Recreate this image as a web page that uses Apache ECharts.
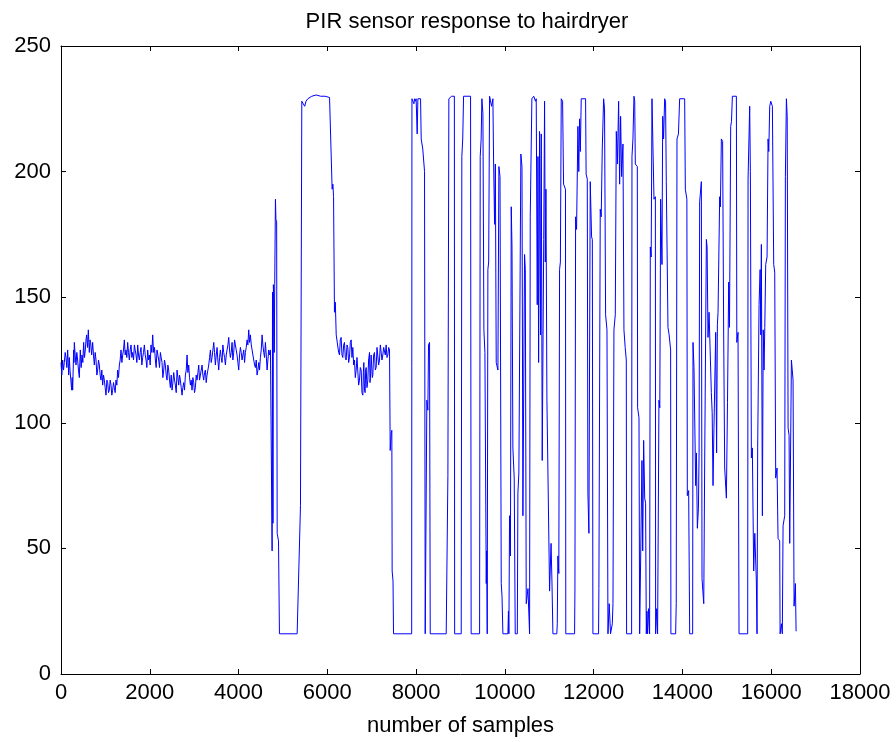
<!DOCTYPE html>
<html>
<head>
<meta charset="utf-8">
<script src="https://cdn.jsdelivr.net/npm/echarts@6/dist/echarts.min.js"></script>
<style>
html,body{margin:0;padding:0;background:#fff;}
#chart{width:896px;height:742px;}
</style>
</head>
<body>
<div id="chart"></div>
<script>
const titleText = 'PIR sensor response to hairdryer';
const xAxisName = 'number of samples';
const xTicks = {min: 0, max: 18000, interval: 2000};
const yTicks = {min: 0, max: 250, interval: 50};

// baseline before hairdryer (sample index, reading)
const baseline1 = [[0,124],[18,119],[37,125],[56,121],[75,124],[94,128],[112,126],[131,122],[150,129],[162,124],[173,119],[188,126],[203,121],[222,117],[240,113],[252,118],[263,113],[274,121],[285,129],[292,124],[300,132],[319,127],[338,123],[356,128],[375,125],[394,121],[413,118],[424,124],[435,129],[454,122],[473,127],[492,124],[510,132],[529,126],[548,129],[563,133],[578,135],[597,130],[616,137],[627,132],[638,128],[653,133],[668,132],[690,127],[713,132],[732,127],[751,123],[770,128],[789,125],[808,119],[826,121],[845,125],[864,123],[882,119],[901,117],[920,121],[939,115],[958,119],[976,117],[995,114],[1014,111],[1033,117],[1052,116],[1070,112],[1089,113],[1108,117],[1127,115],[1145,111],[1164,113],[1183,116],[1202,114],[1220,112],[1239,117],[1258,115],[1277,121],[1296,118],[1315,123],[1333,125],[1352,129],[1371,124],[1390,127],[1408,129],[1427,133],[1446,127],[1465,129],[1483,126],[1502,132],[1521,128],[1540,125],[1559,129],[1578,131],[1596,126],[1615,128],[1634,125],[1653,131],[1671,129],[1690,127],[1709,124],[1728,131],[1746,127],[1765,125],[1784,128],[1803,130],[1821,123],[1840,126],[1859,128],[1878,131],[1897,127],[1916,125],[1934,122],[1953,129],[1972,125],[1991,127],[2009,123],[2028,131],[2047,128],[2066,135],[2077,131],[2088,128],[2107,130],[2126,125],[2144,122],[2163,129],[2182,127],[2201,125],[2220,122],[2239,128],[2257,126],[2276,124],[2295,118],[2314,121],[2332,125],[2351,123],[2370,119],[2389,117],[2407,123],[2426,121],[2445,117],[2464,114],[2483,119],[2502,113],[2520,116],[2539,120],[2558,117],[2577,115],[2596,112],[2614,121],[2633,118],[2652,115],[2670,119],[2689,117],[2708,114],[2727,111],[2745,114],[2764,116],[2783,113],[2802,119],[2821,121],[2840,127],[2858,120],[2877,123],[2896,118],[2915,115],[2933,117],[2952,113],[2971,118],[2990,116],[3008,112],[3027,114],[3046,119],[3065,117],[3084,120],[3103,123],[3121,117],[3140,119],[3159,121],[3178,123],[3196,119],[3215,117],[3234,120],[3253,121],[3271,116],[3290,119],[3309,121],[3328,123],[3347,126],[3366,129],[3384,124],[3403,126],[3422,129],[3441,132],[3459,128],[3478,123],[3497,127],[3516,130],[3534,125],[3553,121],[3572,126],[3591,129],[3609,126],[3628,124],[3647,131],[3666,128],[3685,126],[3704,123],[3722,127],[3741,129],[3760,131],[3779,134],[3797,129],[3816,126],[3835,128],[3854,132],[3872,125],[3891,128],[3910,133],[3929,131],[3947,129],[3966,127],[3985,124],[4004,121],[4023,127],[4042,130],[4060,128],[4079,125],[4098,127],[4117,129],[4135,124],[4154,128],[4173,130],[4192,133],[4210,131],[4229,137],[4248,132],[4267,135],[4286,131],[4305,129],[4323,127],[4342,125],[4361,123],[4380,122],[4398,125],[4417,119],[4436,121],[4455,124],[4473,121],[4492,126],[4511,129],[4530,135],[4548,131],[4567,128],[4586,126],[4605,132],[4624,127],[4643,121],[4661,125],[4680,129],[4699,127],[4718,129],[4740,129]];

// first hairdryer burst
const burst1 = [[4756,49],[4765,152],[4775,60],[4785,155],[4795,148],[4805,128],[4815,155],[4831,189],[4842,181],[4858,180],[4870,56],[4900,53],[4921,16],[5320,16],[5395,67],[5425,228],[5460,228],[5490,226],[5520,228],[5560,229],[5650,230],[5750,230.5],[5850,230],[5950,230],[6050,229.5],[6086,229],[6108,193],[6125,195],[6140,190],[6161,144],[6180,148],[6200,135]];

// recovery
const baseline2 = [[6236,135],[6255,128],[6274,127],[6292,133],[6311,134],[6330,127],[6349,126],[6368,131],[6386,132],[6405,126],[6424,125],[6443,131],[6461,130],[6480,124],[6499,126],[6518,132],[6537,133],[6555,126],[6574,130],[6593,123],[6612,125],[6630,118],[6649,121],[6668,126],[6687,126],[6705,115],[6724,117],[6743,122],[6762,121],[6780,112],[6800,111],[6811,120],[6822,124],[6837,113],[6852,112],[6863,121],[6875,122],[6893,114],[6912,117],[6930,125],[6950,128],[6961,116],[6972,118],[6987,127],[7002,127],[7013,118],[7025,119],[7043,127],[7062,128],[7081,121],[7100,122],[7119,130],[7138,130],[7156,123],[7175,125],[7194,131],[7213,131],[7231,125],[7250,127],[7269,130],[7288,130],[7306,127],[7325,131],[7344,126],[7363,127],[7382,130],[7401,129],[7416,89],[7440,96],[7453,97],[7460,41],[7480,37],[7491,16]];

// repeated hairdryer passes
const burst2 = [[7900,16],[7906,229],[7920,229.5],[7950,227],[7965,229],[7985,228],[8000,229],[8024,215],[8040,229],[8060,229.5],[8100,229],[8115,213],[8150,209],[8190,200],[8205,16],[8230,16],[8242,109],[8265,105],[8280,131],[8303,132],[8318,16],[8678,16],[8716,79],[8738,229],[8800,230],[8862,230],[8868,16],[9016,16],[9030,206],[9050,213],[9069,230],[9227,230],[9240,16],[9430,16],[9444,206],[9465,213],[9482,229],[9505,223],[9527,137],[9550,128],[9580,36],[9590,49],[9602,16],[9617,161],[9635,164],[9655,230],[9700,226],[9730,229],[9745,205],[9768,179],[9785,203],[9805,124],[9843,121],[9865,202],[9890,198],[9918,36],[9935,31],[9955,16],[10068,16],[10080,25],[10090,16],[10105,63],[10125,47],[10143,186],[10160,170],[10180,90],[10210,78],[10233,16],[10280,16],[10293,72],[10315,80],[10360,207],[10385,202],[10406,63],[10443,167],[10460,161],[10481,28],[10520,34],[10556,16],[10571,182],[10608,229],[10650,230],[10690,228],[10706,229],[10729,147],[10745,206],[10760,124],[10781,216],[10804,135],[10819,215],[10841,85],[10860,135],[10875,173],[10894,228],[10910,164],[10925,193],[10947,109],[10985,109],[11007,33],[11040,52],[11060,37],[11082,16],[11170,16],[11180,20],[11194,47],[11215,40],[11232,161],[11250,164],[11270,229],[11300,228],[11322,195],[11365,193],[11372,16],[11570,16],[11578,33],[11593,182],[11615,177],[11645,218],[11665,200],[11683,221],[11700,208],[11720,229],[11818,229],[11830,199],[11856,197],[11870,72],[11893,56],[11923,196],[11953,174],[11970,173],[11983,16]];

const burst3 = [[12110,16],[12118,34],[12148,185],[12170,182],[12194,209],[12224,229],[12245,225],[12269,143],[12300,137],[12322,16],[12350,28],[12380,16],[12420,20],[12435,28],[12457,137],[12487,143],[12510,216],[12535,203],[12562,228],[12585,195],[12607,222],[12630,198],[12660,211],[12682,137],[12710,130],[12735,125],[12742,16],[12855,16],[12863,206],[12885,213],[12908,230],[12925,228],[12938,203],[12983,202],[12990,106],[13021,102],[13036,16],[13075,16],[13088,85],[13105,49],[13126,93],[13150,70],[13170,68],[13186,16],[13200,25],[13215,16],[13235,26],[13260,16],[13276,170],[13296,166],[13314,229],[13340,229],[13359,189],[13390,190],[13396,16],[13420,26],[13440,16],[13471,109],[13490,106],[13509,189],[13539,163],[13555,222],[13575,213],[13599,229],[13620,228],[13636,196],[13674,138],[13700,135],[13734,129],[13740,16],[13847,16],[13860,28],[13877,213],[13910,215],[13937,229],[14050,229],[14065,193],[14100,189],[14110,71],[14140,73],[14163,16],[14230,16],[14238,132],[14260,122],[14298,75],[14315,88],[14336,58],[14360,66],[14375,88],[14388,188],[14426,196],[14441,38],[14460,33],[14480,28],[14501,84],[14539,173],[14555,170],[14576,134],[14600,144],[14651,112],[14670,104],[14689,75],[14710,98],[14749,136],[14770,88],[14787,139],[14802,144],[14839,190],[14855,186],[14877,213],[14905,212],[14929,135],[14952,82],[14990,70],[15015,108],[15042,156],[15060,138],[15087,218],[15105,220],[15125,230],[15215,230],[15225,132],[15252,136],[15275,16],[15470,16],[15478,197],[15515,226],[15530,200],[15553,86],[15575,90],[15605,41],[15630,56],[15665,37],[15680,16],[15695,90],[15726,147],[15750,161],[15765,135],[15778,171],[15801,63],[15820,137],[15838,121],[15855,138],[15876,163],[15906,166],[15929,213],[15945,208],[15966,226],[15990,228],[16026,226],[16056,163],[16079,160],[16101,78],[16131,82],[16154,54],[16191,53],[16200,16],[16230,20],[16250,16],[16267,59],[16304,63],[16319,198],[16342,229],[16360,222],[16380,98],[16402,95],[16417,52],[16455,125],[16492,117],[16515,27],[16545,36],[16560,17]];

const series = baseline1.concat(burst1, baseline2, burst2, burst3);

const font = 'Liberation Sans, Arial, Helvetica, sans-serif';
const fs = 22;
const chart = echarts.init(document.getElementById('chart'), null, {renderer: 'canvas'});
const tickStyle = {inside: true, length: 5, lineStyle: {color: '#000', width: 1}};
const lineStyle = {show: true, onZero: false, lineStyle: {color: '#000', width: 1}};
const plain = v => String(v);
chart.setOption({
  animation: false,
  backgroundColor: '#fff',
  title: {
    text: titleText, left: 462, top: 6, textAlign: 'center',
    textStyle: {fontFamily: font, fontSize: fs, fontWeight: 'normal', color: '#000'}
  },
  grid: {left: 61, right: 36, top: 46, bottom: 66},
  xAxis: [{
    type: 'value', position: 'bottom', min: xTicks.min, max: xTicks.max, interval: xTicks.interval,
    name: xAxisName, nameLocation: 'middle', nameGap: 41,
    nameTextStyle: {fontFamily: font, fontSize: fs, color: '#000'},
    axisLine: lineStyle, axisTick: tickStyle, splitLine: {show: false},
    axisLabel: {fontFamily: font, fontSize: fs, color: '#000', margin: 8, formatter: plain}
  }, {
    type: 'value', position: 'top', min: xTicks.min, max: xTicks.max, interval: xTicks.interval,
    axisLine: lineStyle, axisTick: tickStyle, splitLine: {show: false}, axisLabel: {show: false}
  }],
  yAxis: [{
    type: 'value', position: 'left', min: yTicks.min, max: yTicks.max, interval: yTicks.interval,
    axisLine: lineStyle, axisTick: tickStyle, splitLine: {show: false},
    axisLabel: {fontFamily: font, fontSize: fs, color: '#000', margin: 10, formatter: plain}
  }, {
    type: 'value', position: 'right', min: yTicks.min, max: yTicks.max, interval: yTicks.interval,
    axisLine: lineStyle, axisTick: tickStyle, splitLine: {show: false}, axisLabel: {show: false}
  }],
  series: [{
    type: 'line', xAxisIndex: 0, yAxisIndex: 0, data: series,
    showSymbol: false, symbol: 'none',
    lineStyle: {color: '#0000ff', width: 1}
  }]
});
</script>
</body>
</html>
